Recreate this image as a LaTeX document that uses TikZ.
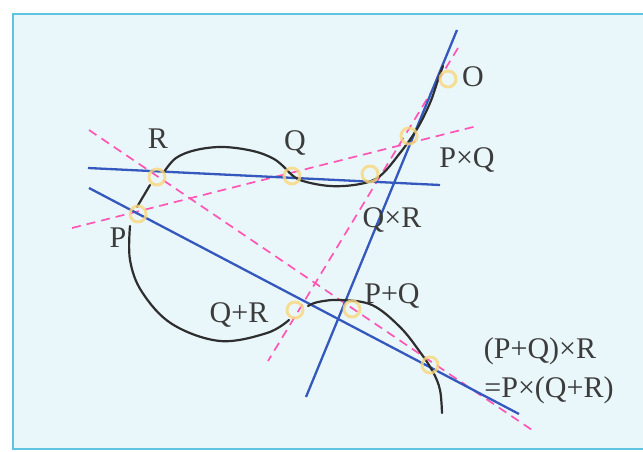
\documentclass[tikz,border=0pt]{standalone}
\usepackage{fontspec}
\setmainfont{Liberation Serif}
\begin{document}
\begin{tikzpicture}[x=1pt,y=-1pt,
  lbl/.style={anchor=base,inner sep=0pt,text=labelgray,font=\fontsize{30}{31}\selectfont},
  blueline/.style={draw=lineblue,line width=2.3pt},
  pinkline/.style={draw=dashpink,line width=1.7pt,dash pattern=on 9pt off 6pt},
  curveline/.style={draw=curvegray,line width=2.2pt,line cap=round},
  marker/.style={draw=markyellow,line width=3pt,opacity=0.8}]
\definecolor{bgcyan}{HTML}{EAF7FA}
\definecolor{framecyan}{HTML}{5EC4E2}
\definecolor{labelgray}{HTML}{3C3C3C}
\definecolor{lineblue}{HTML}{3558BE}
\definecolor{dashpink}{HTML}{FF55B4}
\definecolor{curvegray}{HTML}{2E2E2E}
\definecolor{markyellow}{HTML}{F9D77E}
\useasboundingbox (0,0) rectangle (643,452);
\fill[white] (0,0) rectangle (643,452);
\fill[bgcyan] (13,14) rectangle (650,449);
\draw[framecyan,line width=2pt] (650,14) -- (13,14) -- (13,449) -- (650,449);

% named points
\coordinate (R) at (157,177);
\coordinate (Q) at (292,176);
\coordinate (P) at (138,214);
\coordinate (O) at (448,79);
\coordinate (PxQ) at (409,136);
\coordinate (QxR) at (370,174);
\coordinate (QpR) at (295,310);
\coordinate (PpQ) at (352,309);
\coordinate (PQR) at (430,365);

% pink dashed lines
\coordinate (a1) at (89,130); \coordinate (a2) at (535,432);
\coordinate (b1) at (72,228); \coordinate (b2) at (477,126);
\coordinate (c1) at (458,48); \coordinate (c2) at (268,361);
\draw[pinkline] (a1) -- (a2);
\draw[pinkline] (b1) -- (b2);
\draw[pinkline] (c1) -- (c2);

% blue lines
\coordinate (l1) at (88,168); \coordinate (l2) at (440,185);
\coordinate (m1) at (89,188); \coordinate (m2) at (519,414);
\coordinate (n1) at (457,30); \coordinate (n2) at (306,397);
\draw[blueline] (l1) -- (l2);
\draw[blueline] (m1) -- (m2);
\draw[blueline] (n1) -- (n2);

% black curve
\draw[curveline] plot[smooth,tension=0.6] coordinates {(442,413) (440,390) (433,372) (420,352) (400,327) (372,305) (340,300) (318,302) (308,306)};
\draw[curveline] plot[smooth,tension=0.6] coordinates {(289,320) (267,333) (220,341) (172,324) (142,292) (130,260) (130,226)};
\draw[curveline] (137,207) -- (150,185);
\draw[curveline] plot[smooth,tension=0.6] coordinates {(164,172) (176,158) (196,150) (223,147) (253,151) (274,159) (287,170)};
\draw[curveline] plot[smooth,tension=0.6] coordinates {(287,170) (300,180) (330,186) (360,184) (380,176) (400,153) (417,129) (430,103) (438,80) (443,66)};

% markers
\foreach \p in {R,Q,P,O,PxQ,QxR,QpR,PpQ,PQR}
  \draw[marker] (\p) circle (8);

% labels
\node[lbl] (tR) at (158,148) {R};
\node[lbl] (tQ) at (295,150) {Q};
\node[lbl] (tP) at (118,247) {P};
\node[lbl] (tO) at (473,87) {O};
\node[lbl] (tPxQ) at (467,167) {P×Q};
\node[lbl] (tQxR) at (392,227) {Q×R};
\node[lbl] (tPpQ) at (392,303) {P+Q};
\node[lbl] (tQpR) at (239,322) {Q+R};
\node[lbl] (tPQR) at (540,358) {(P+Q)×R};
\node[lbl] (tPQR2) at (549,397) {=P×(Q+R)};
\end{tikzpicture}
\end{document}
